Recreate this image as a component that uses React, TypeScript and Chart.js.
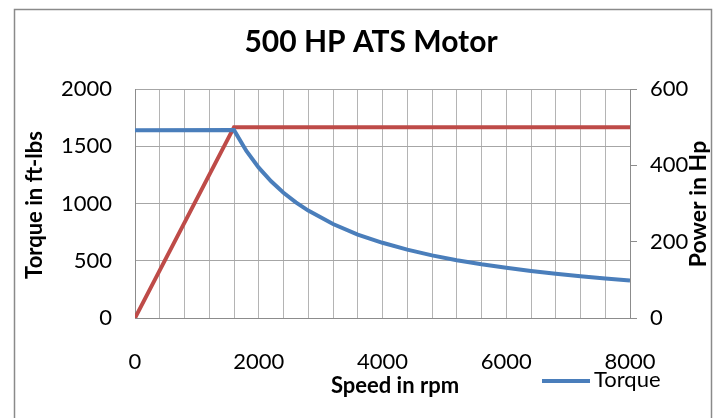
import React, { useEffect, useRef } from "react";
import { Chart, registerables } from "chart.js";

Chart.register(...registerables);

// ---- data ----
const torqueSpeed = [0, 1600, 1800, 2000, 2200, 2400, 2600, 2800, 3200, 3600, 4000, 4400, 4800, 5200, 5600, 6000, 6400, 6800, 7200, 7600, 8000];
const torque = [1640, 1641, 1459, 1313, 1194, 1094, 1010, 938, 821, 729, 657, 597, 547, 505, 469, 438, 410, 386, 365, 346, 328];
const powerSpeed = [0, 1600, 8000];
const power = [0, 500, 500];
const xTickLabels = [0, 2000, 4000, 6000, 8000];

const chartTitle = "500 HP ATS Motor";
const xTitle = "Speed in rpm";
const yTitle = "Torque in ft-lbs";
const y1Title = "Power in Hp";
const legendLabel = "Torque";

const FONT = "Lato";
const BLUE = "#4A7EBB";
const RED = "#BE4B48";
const GRID = "#b4b4b4";
const AXIS = "#8c8c8c";

const decorPlugin = {
  id: "decor",
  beforeDraw(chart: any) {
    const ctx = chart.ctx;
    ctx.save();
    ctx.fillStyle = "#ffffff";
    ctx.fillRect(0, 0, chart.width, chart.height);
    ctx.strokeStyle = "#8a8a8a";
    ctx.lineWidth = 1.5;
    ctx.strokeRect(14.5, 9.5, 697, 440);
    ctx.restore();
  },
  afterDraw(chart: any) {
    const ctx = chart.ctx;
    ctx.save();
    ctx.fillStyle = "#000";
    ctx.textAlign = "center";
    ctx.textBaseline = "middle";
    // title
    ctx.font = `bold 30px ${FONT}`;
    ctx.fillText(chartTitle, 371, 42);
    // x title
    ctx.font = `bold 22px ${FONT}`;
    ctx.fillText(xTitle, 395, 386);
    // left y title
    ctx.save();
    ctx.translate(35, 205);
    ctx.rotate(-Math.PI / 2);
    ctx.fillText(yTitle, 0, 0);
    ctx.restore();
    // right y title
    ctx.font = `bold 23px ${FONT}`;
    ctx.save();
    ctx.translate(699, 204);
    ctx.rotate(-Math.PI / 2);
    ctx.fillText(y1Title, 0, 0);
    ctx.restore();
    // legend
    ctx.strokeStyle = BLUE;
    ctx.lineWidth = 4;
    ctx.beginPath();
    ctx.moveTo(542, 381);
    ctx.lineTo(590, 381);
    ctx.stroke();
    ctx.font = `22px ${FONT}`;
    ctx.textAlign = "left";
    ctx.fillText(legendLabel, 594, 380);
    ctx.restore();
  },
};

export default function App() {
  const ref = useRef<HTMLCanvasElement>(null);
  useEffect(() => {
    if (!ref.current) return;
    const chart = new Chart(ref.current, {
      type: "line",
      data: {
        datasets: [
          {
            label: legendLabel,
            data: torqueSpeed.map((x, i) => ({ x, y: torque[i] })),
            borderColor: BLUE,
            borderWidth: 4,
            pointRadius: 0,
            tension: 0,
            yAxisID: "y",
          },
          {
            label: "Power",
            data: powerSpeed.map((x, i) => ({ x, y: power[i] })),
            borderColor: RED,
            borderWidth: 4,
            pointRadius: 0,
            tension: 0,
            yAxisID: "y1",
          },
        ],
      },
      options: {
        animation: false,
        responsive: false,
        layout: { padding: { top: 89, left: 0, right: 0, bottom: 0 } },
        plugins: { legend: { display: false }, title: { display: false }, tooltip: { enabled: false } },
        scales: {
          x: {
            type: "linear",
            min: 0,
            max: 8000,
            afterFit: (s: any) => { s.height = 100; },
            grid: { color: GRID, drawTicks: false, lineWidth: 1 },
            border: { color: AXIS, width: 1 },
            ticks: {
              stepSize: 400,
              autoSkip: false,
              maxRotation: 0,
              padding: 31,
              color: "#000",
              font: { family: FONT, size: 22 },
              callback: (v: any) => (xTickLabels.includes(Number(v)) ? String(v) : ""),
            },
          },
          y: {
            position: "left",
            min: 0,
            max: 2000,
            afterFit: (s: any) => { s.width = 135; },
            grid: { color: "#a6a6a6", drawTicks: false, lineWidth: 1 },
            border: { color: AXIS, width: 1 },
            ticks: {
              stepSize: 500,
              padding: 23,
              color: "#000",
              font: { family: FONT, size: 22 },
              callback: (v: any) => String(v),
            },
          },
          y1: {
            position: "right",
            min: 0,
            max: 600,
            afterFit: (s: any) => { s.width = 84; },
            grid: { drawOnChartArea: false, drawTicks: true, tickLength: 7, tickColor: AXIS },
            border: { color: AXIS, width: 1 },
            ticks: {
              stepSize: 200,
              padding: 13,
              color: "#000",
              font: { family: FONT, size: 22 },
              callback: (v: any) => String(v),
            },
          },
        },
      } as any,
      plugins: [decorPlugin],
    });
    return () => chart.destroy();
  }, []);
  return (
    <canvas
      ref={ref}
      width={714}
      height={418}
      style={{ position: "absolute", left: 0, top: 0, width: 714, height: 418 }}
    />
  );
}
